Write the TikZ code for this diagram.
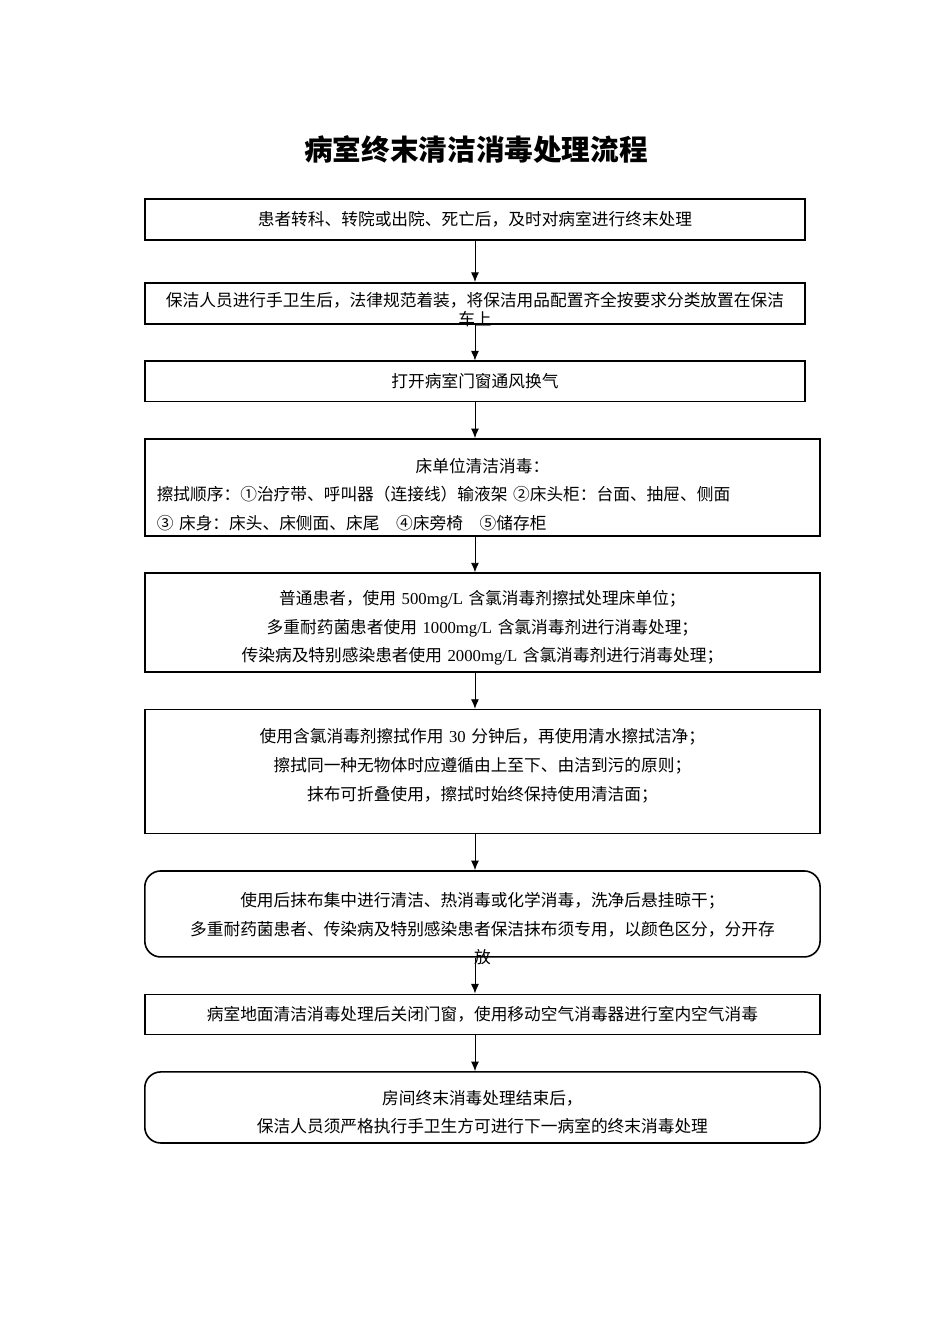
\documentclass[tikz,border=0pt]{standalone}
\usepackage{fontspec}
\setmainfont{Noto Sans CJK SC}
\newfontfamily\lat{Liberation Serif}
\usetikzlibrary{arrows.meta, positioning}

\begin{document}
\begin{tikzpicture}[x=0.0221cm, y=-0.0221cm]
				\tikzset {>={Latex[length=6pt,width=5pt]}, node distance=0.79cm,
					box/.style={draw, line width=1pt, minimum width=14.92cm, text width=14.6cm, inner sep=2pt, align=center, font=\fontsize{10.5pt}{18pt}\selectfont},
					rbox/.style={box, rounded corners=10pt},
					lines/.style 2 args={text height=#1, text depth=#2} }
					\useasboundingbox (0,0) rectangle (950,1344);
					\node[font=\fontsize{18pt}{22pt}\selectfont\bfseries] (0) at (476,149) {病室终末清洁消毒处理流程};
					\node[box, minimum width=14.59cm, text width=14.3cm, minimum height=0.91cm, anchor=north west] (1) at (144,198) {患者转科、转院或出院、死亡后，及时对病室进行终末处理};
					\node[box, minimum width=14.59cm, text width=14.3cm, minimum height=0.91cm, below=0.91cm of 1.south west, anchor=north west, font=\fontsize{10.5pt}{12pt}\selectfont, lines={3.6pt}{0pt}] (2) {保洁人员进行手卫生后，法律规范着装，将保洁用品配置齐全按要求分类放置在保洁\\车上};
					\node[box, minimum width=14.59cm, text width=14.3cm, minimum height=0.89cm, below=of 2.south west, anchor=north west] (3) {打开病室门窗通风换气};
					\node[box, minimum height=2.14cm, below=of 3.south west, anchor=north west, text width=14.39cm, inner xsep=0.265cm, align=left, lines={0pt}{19pt}] (4) {\makebox[\linewidth]{床单位清洁消毒：}\\擦拭顺序：①治疗带、呼叫器（连接线）输液架 ②床头柜：台面、抽屉、侧面\\③ 床身：床头、床侧面、床尾\quad ④床旁椅\quad ⑤储存柜};
					\node[box, minimum height=2.19cm, below=of 4.south west, anchor=north west, lines={0pt}{22.7pt}] (5) {普通患者，使用 {\lat 500mg/L} 含氯消毒剂擦拭处理床单位；\\多重耐药菌患者使用 {\lat 1000mg/L} 含氯消毒剂进行消毒处理；\\传染病及特别感染患者使用 {\lat 2000mg/L} 含氯消毒剂进行消毒处理；};
					\node[box, minimum height=2.74cm, below=of 5.south west, anchor=north west, lines={0pt}{36pt}] (6) {使用含氯消毒剂擦拭作用 {\lat 30} 分钟后，再使用清水擦拭洁净；\\擦拭同一种无物体时应遵循由上至下、由洁到污的原则；\\抹布可折叠使用，擦拭时始终保持使用清洁面；};
					\node[rbox, minimum height=1.90cm, below=of 6.south west, anchor=north west, lines={0pt}{9.5pt}] (7) {使用后抹布集中进行清洁、热消毒或化学消毒，洗净后悬挂晾干；\\多重耐药菌患者、传染病及特别感染患者保洁抹布须专用，以颜色区分，分开存\\放};
					\node[box, minimum height=0.89cm, below=of 7.south west, anchor=north west] (8) {病室地面清洁消毒处理后关闭门窗，使用移动空气消毒器进行室内空气消毒};
					\node[rbox, minimum height=1.57cm, below=of 8.south west, anchor=north west, lines={0pt}{4pt}] (9) {房间终末消毒处理结束后，\\保洁人员须严格执行手卫生方可进行下一病室的终末消毒处理};

					\foreach \a/\b in {1/2,2/3,3/4,4/5,5/6,6/7,7/8,8/9}
					\draw[->, line width=0.6pt] (\a.south -| 1.south) -- (\b.north -| 1.south);
			\end{tikzpicture}
\end{document}
